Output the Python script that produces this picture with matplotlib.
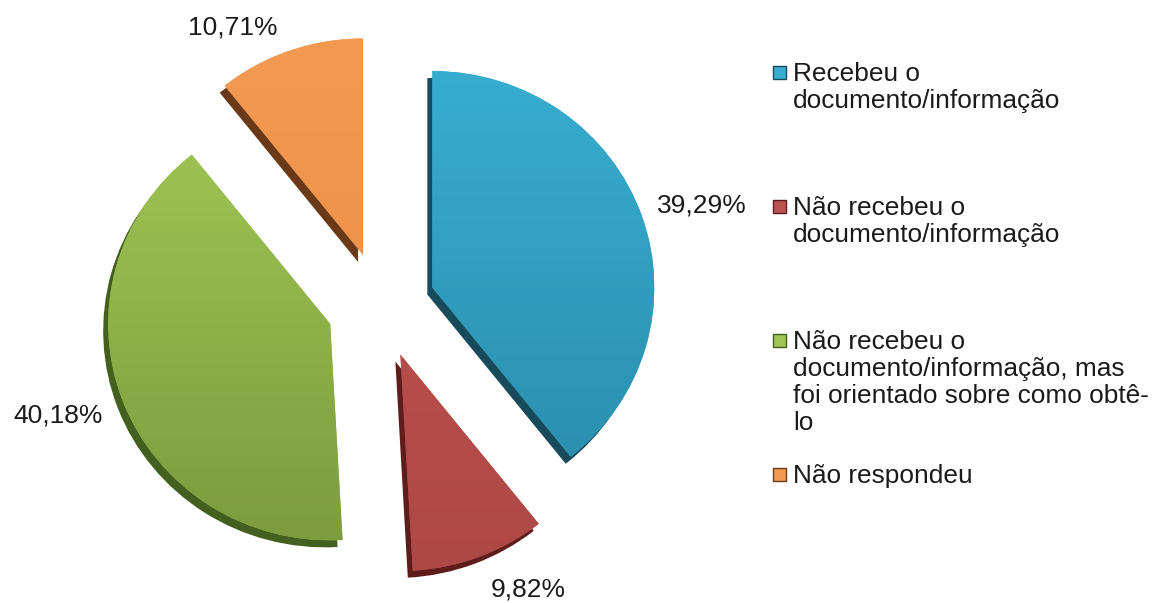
import numpy as np
import matplotlib
matplotlib.use("Agg")
import matplotlib.pyplot as plt
from matplotlib.patches import Rectangle
from matplotlib.colors import LinearSegmentedColormap

plt.rcParams['font.family'] = ['Liberation Sans', 'DejaVu Sans']

categories = ["Recebeu o\ndocumento/informação",
              "Não recebeu o\ndocumento/informação",
              "Não recebeu o\ndocumento/informação, mas\nfoi orientado sobre como obtê-\nlo",
              "Não respondeu"]
values = [39.29, 9.82, 40.18, 10.71]
labels = [f"{v:.2f}%".replace(".", ",") for v in values]

top_colors = ["#38ADD0", "#BC5351", "#A0C655", "#F39A52"]
bot_colors = ["#2A8DAB", "#AE4846", "#7C9C3E", "#EA8C44"]
side_colors = ["#174B5C", "#5E1C1B", "#44601E", "#6A3A18"]

W, H = 1157, 603
YS = 0.975  # vertical squash of the pie (pixels per y data unit)
fig = plt.figure(figsize=(W / 100, H / 100), dpi=100)
ax = fig.add_axes([0, 0, 1, 1])


def px(x, y):
    """pixel coords (origin top-left) -> data coords"""
    return x, (H - y) / YS


R = 222
cx, cy = px(381, 305)
expl = [0.245 * R] * 4

ax.pie(values, explode=expl, radius=R, center=(cx - 5, cy - 7 / YS), startangle=90,
       counterclock=False, colors=side_colors, frame=True,
       wedgeprops=dict(linewidth=0))
wedges, _ = ax.pie(values, explode=expl, radius=R, center=(cx, cy), startangle=90,
                   counterclock=False, colors=top_colors, frame=True,
                   wedgeprops=dict(linewidth=0))
ax.set_xlim(0, W)
ax.set_ylim(0, H / YS)
ax.set_aspect("auto")
ax.axis("off")

grad = np.linspace(0, 1, 256).reshape(-1, 1)
for w, c1, c2 in zip(wedges, top_colors, bot_colors):
    cmap = LinearSegmentedColormap.from_list("g", [c2, c1])
    x0, y0 = w.center
    im = ax.imshow(grad, cmap=cmap, origin="lower", aspect="auto",
                   extent=[x0 - R, x0 + R, y0 - R, y0 + R], zorder=w.get_zorder() + 0.1,
                   interpolation="bilinear")
    im.set_clip_path(w)

label_px = [(702, 205), (528, 589), (58, 415), (233, 28)]
for (lx, ly), t in zip(label_px, labels):
    fig.text(lx / W, 1 - ly / H, t, ha="center", va="center", fontsize=19,
             color="#1a1a1a")

# legend
leg_y = [66, 200, 334, 468]
for y, cat, c1, c2 in zip(leg_y, categories, top_colors, side_colors):
    fig.patches.append(Rectangle((773 / W, 1 - (y + 13) / H), 13 / W, 13 / H,
                                 transform=fig.transFigure, facecolor=c1,
                                 edgecolor=c2, linewidth=1))
    fig.text(793 / W, 1 - (y - 4) / H, cat, ha="left", va="top", fontsize=18.9,
             color="#1a1a1a", linespacing=1.15)

fig.savefig("out.png", dpi=100)
